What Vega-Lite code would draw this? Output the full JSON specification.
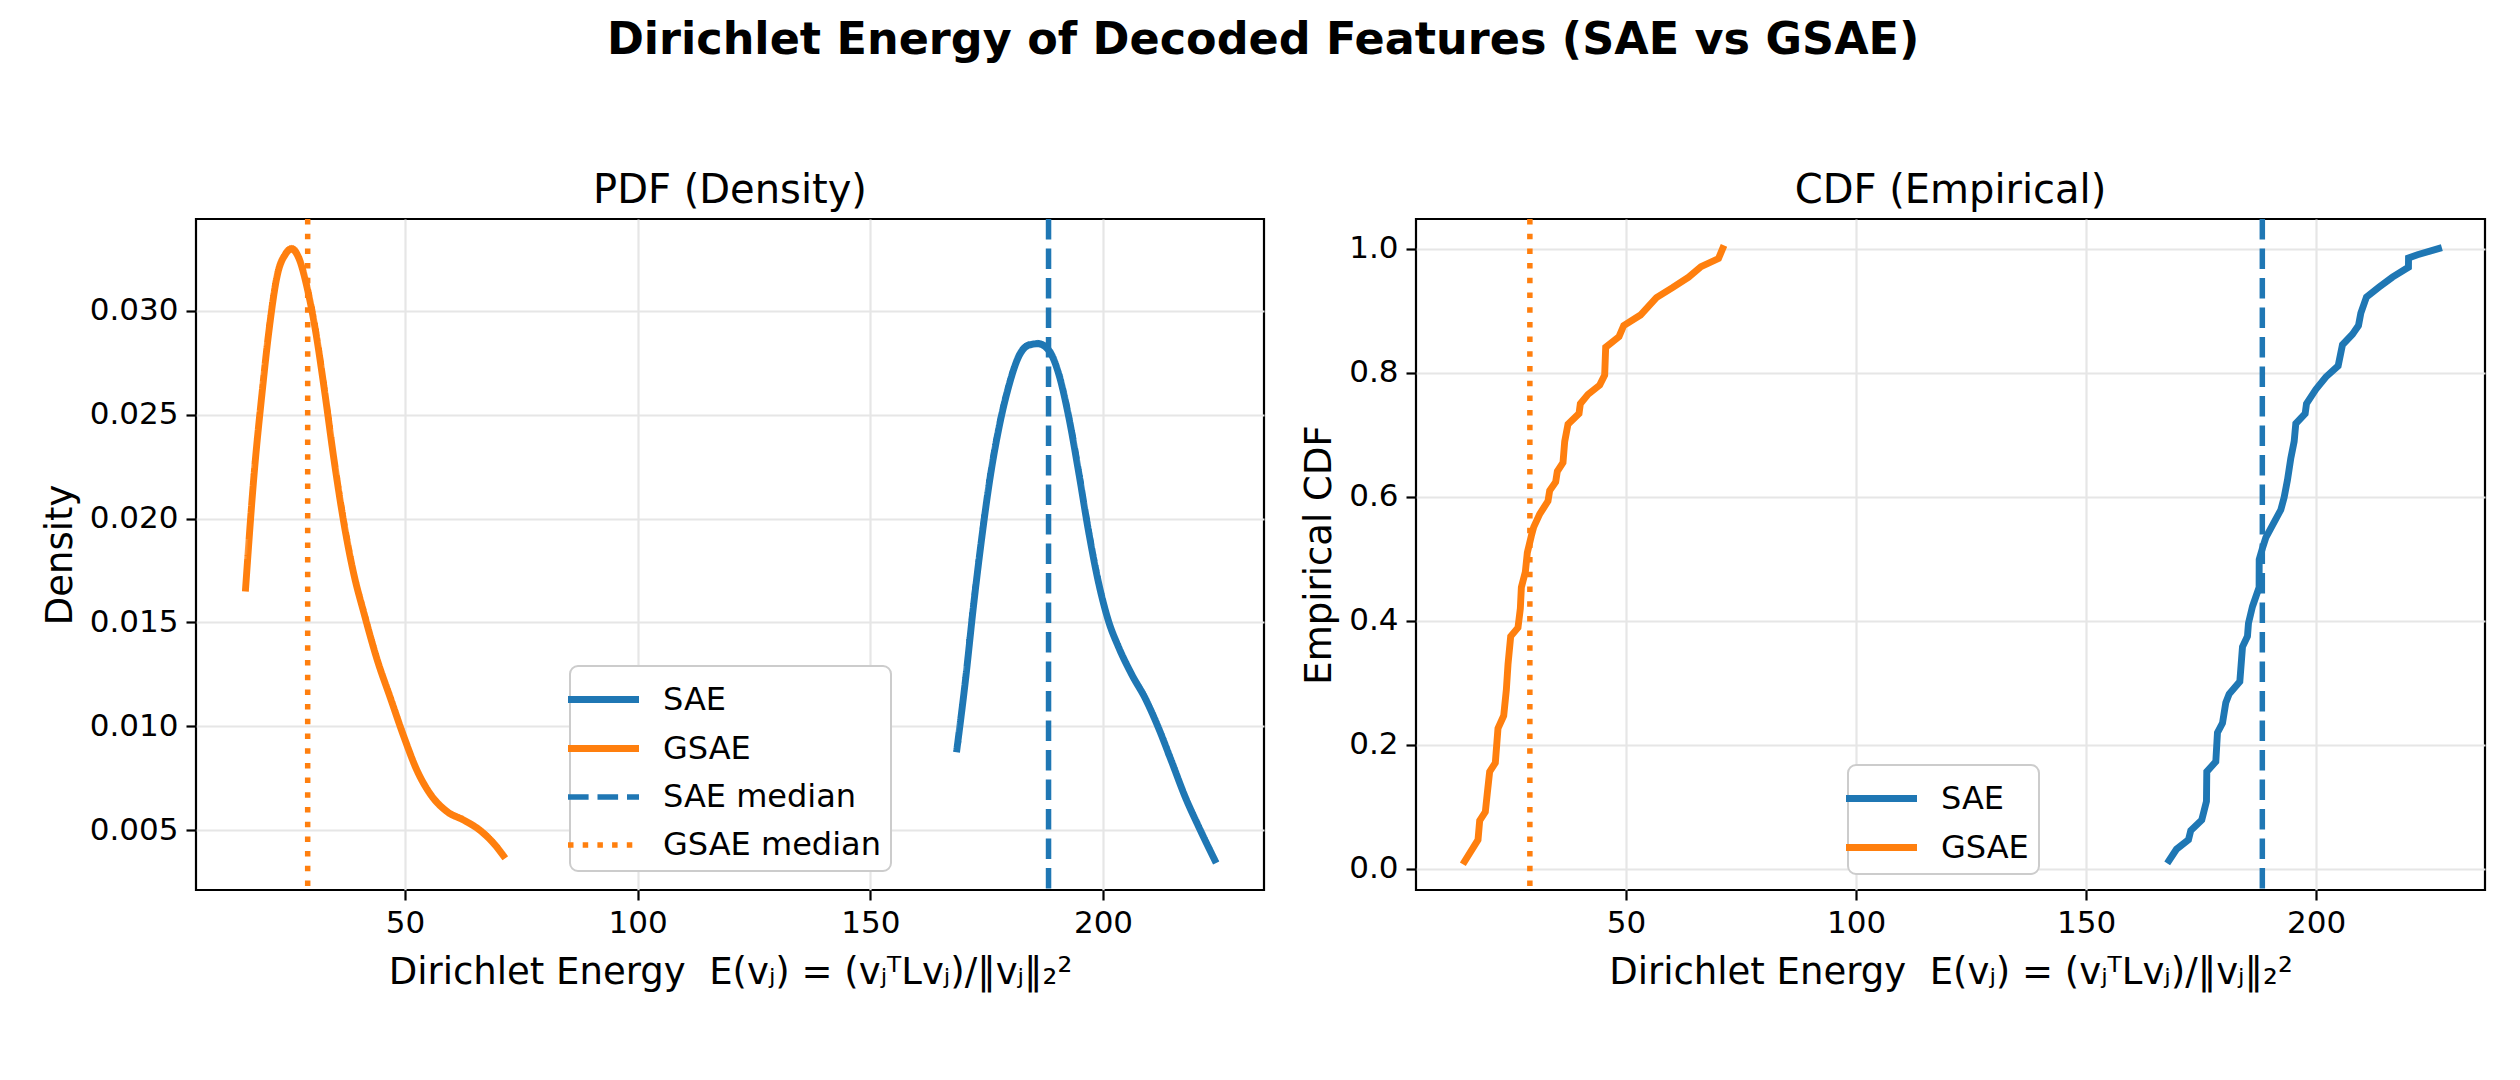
{
  "$schema": "https://vega.github.io/schema/vega-lite/v6.json",
  "background": "white",
  "padding": {"left": 40, "top": 17, "right": 5, "bottom": 5},
  "title": {"text": "Dirichlet Energy of Decoded Features (SAE vs GSAE)", "font": "DejaVu Sans", "fontSize": 44.5, "fontWeight": "bold", "color": "black", "anchor": "middle", "frame": "bounds", "baseline": "alphabetic", "offset": 72},
  "datasets": {
    "pdf": [
      {"s": "GSAE", "x": 15.76, "y": 0.01665}, {"s": "GSAE", "x": 17.55, "y": 0.02204}, {"s": "GSAE", "x": 19.34, "y": 0.02615}, {"s": "GSAE", "x": 20.77, "y": 0.02903}, {"s": "GSAE", "x": 22.56, "y": 0.03171}, {"s": "GSAE", "x": 24.35, "y": 0.03274}, {"s": "GSAE", "x": 25.64, "y": 0.03298}, {"s": "GSAE", "x": 27.22, "y": 0.03253}, {"s": "GSAE", "x": 29.01, "y": 0.03109}, {"s": "GSAE", "x": 30.8, "y": 0.02903}, {"s": "GSAE", "x": 32.59, "y": 0.02636}, {"s": "GSAE", "x": 34.74, "y": 0.02286}, {"s": "GSAE", "x": 36.89, "y": 0.01977}, {"s": "GSAE", "x": 39.04, "y": 0.0173}, {"s": "GSAE", "x": 41.19, "y": 0.01545}, {"s": "GSAE", "x": 44.05, "y": 0.01319}, {"s": "GSAE", "x": 46.92, "y": 0.01133}, {"s": "GSAE", "x": 49.79, "y": 0.00948}, {"s": "GSAE", "x": 52.65, "y": 0.00784}, {"s": "GSAE", "x": 55.52, "y": 0.00671}, {"s": "GSAE", "x": 59.1, "y": 0.00588}, {"s": "GSAE", "x": 62.68, "y": 0.00547}, {"s": "GSAE", "x": 66.26, "y": 0.00496}, {"s": "GSAE", "x": 69.13, "y": 0.00434}, {"s": "GSAE", "x": 71.13, "y": 0.00377},
      {"s": "SAE", "x": 168.62, "y": 0.00891}, {"s": "SAE", "x": 170.42, "y": 0.01216}, {"s": "SAE", "x": 172.21, "y": 0.01586}, {"s": "SAE", "x": 174.0, "y": 0.01916}, {"s": "SAE", "x": 175.79, "y": 0.02204}, {"s": "SAE", "x": 177.58, "y": 0.0243}, {"s": "SAE", "x": 179.73, "y": 0.02636}, {"s": "SAE", "x": 181.88, "y": 0.0278}, {"s": "SAE", "x": 184.03, "y": 0.02835}, {"s": "SAE", "x": 186.03, "y": 0.02842}, {"s": "SAE", "x": 188.32, "y": 0.02811}, {"s": "SAE", "x": 190.47, "y": 0.02698}, {"s": "SAE", "x": 192.62, "y": 0.02492}, {"s": "SAE", "x": 194.77, "y": 0.02224}, {"s": "SAE", "x": 196.92, "y": 0.01936}, {"s": "SAE", "x": 199.07, "y": 0.01689}, {"s": "SAE", "x": 201.22, "y": 0.01504}, {"s": "SAE", "x": 203.37, "y": 0.0138}, {"s": "SAE", "x": 206.23, "y": 0.01247}, {"s": "SAE", "x": 209.1, "y": 0.01133}, {"s": "SAE", "x": 211.96, "y": 0.0099}, {"s": "SAE", "x": 214.83, "y": 0.00825}, {"s": "SAE", "x": 217.69, "y": 0.00658}, {"s": "SAE", "x": 220.56, "y": 0.00516}, {"s": "SAE", "x": 224.0, "y": 0.00356}
    ],
    "cdf": [
      {"s": "GSAE", "x": 14.93, "y": 0.0124}, {"s": "GSAE", "x": 17.83, "y": 0.047}, {"s": "GSAE", "x": 18.19, "y": 0.078}, {"s": "GSAE", "x": 19.42, "y": 0.092}, {"s": "GSAE", "x": 19.86, "y": 0.123}, {"s": "GSAE", "x": 20.36, "y": 0.157}, {"s": "GSAE", "x": 21.59, "y": 0.171}, {"s": "GSAE", "x": 22.17, "y": 0.2265}, {"s": "GSAE", "x": 23.41, "y": 0.247}, {"s": "GSAE", "x": 23.99, "y": 0.289}, {"s": "GSAE", "x": 24.35, "y": 0.33}, {"s": "GSAE", "x": 24.93, "y": 0.375}, {"s": "GSAE", "x": 26.52, "y": 0.389}, {"s": "GSAE", "x": 27.03, "y": 0.42}, {"s": "GSAE", "x": 27.25, "y": 0.454}, {"s": "GSAE", "x": 28.12, "y": 0.479}, {"s": "GSAE", "x": 28.55, "y": 0.51}, {"s": "GSAE", "x": 29.42, "y": 0.537}, {"s": "GSAE", "x": 29.93, "y": 0.551}, {"s": "GSAE", "x": 31.23, "y": 0.572}, {"s": "GSAE", "x": 33.04, "y": 0.593}, {"s": "GSAE", "x": 33.41, "y": 0.61}, {"s": "GSAE", "x": 34.71, "y": 0.624}, {"s": "GSAE", "x": 35.07, "y": 0.641}, {"s": "GSAE", "x": 36.3, "y": 0.655}, {"s": "GSAE", "x": 36.67, "y": 0.689}, {"s": "GSAE", "x": 37.39, "y": 0.717}, {"s": "GSAE", "x": 39.78, "y": 0.734}, {"s": "GSAE", "x": 40.07, "y": 0.75}, {"s": "GSAE", "x": 41.74, "y": 0.765}, {"s": "GSAE", "x": 44.28, "y": 0.78}, {"s": "GSAE", "x": 45.36, "y": 0.796}, {"s": "GSAE", "x": 45.58, "y": 0.841}, {"s": "GSAE", "x": 48.48, "y": 0.858}, {"s": "GSAE", "x": 49.5, "y": 0.876}, {"s": "GSAE", "x": 53.15, "y": 0.893}, {"s": "GSAE", "x": 56.6, "y": 0.921}, {"s": "GSAE", "x": 60.1, "y": 0.937}, {"s": "GSAE", "x": 63.6, "y": 0.954}, {"s": "GSAE", "x": 66.3, "y": 0.971}, {"s": "GSAE", "x": 70.1, "y": 0.984}, {"s": "GSAE", "x": 71.0, "y": 1.0},
      {"s": "SAE", "x": 168.04, "y": 0.0138}, {"s": "SAE", "x": 169.64, "y": 0.0318}, {"s": "SAE", "x": 172.25, "y": 0.047}, {"s": "SAE", "x": 172.75, "y": 0.062}, {"s": "SAE", "x": 175.14, "y": 0.079}, {"s": "SAE", "x": 176.16, "y": 0.109}, {"s": "SAE", "x": 176.23, "y": 0.157}, {"s": "SAE", "x": 178.19, "y": 0.173}, {"s": "SAE", "x": 178.55, "y": 0.2196}, {"s": "SAE", "x": 179.64, "y": 0.235}, {"s": "SAE", "x": 180.36, "y": 0.268}, {"s": "SAE", "x": 181.09, "y": 0.282}, {"s": "SAE", "x": 183.41, "y": 0.302}, {"s": "SAE", "x": 183.99, "y": 0.358}, {"s": "SAE", "x": 185.07, "y": 0.375}, {"s": "SAE", "x": 185.29, "y": 0.396}, {"s": "SAE", "x": 186.16, "y": 0.423}, {"s": "SAE", "x": 187.6, "y": 0.454}, {"s": "SAE", "x": 187.62, "y": 0.499}, {"s": "SAE", "x": 188.33, "y": 0.517}, {"s": "SAE", "x": 189.06, "y": 0.534}, {"s": "SAE", "x": 192.32, "y": 0.579}, {"s": "SAE", "x": 193.04, "y": 0.599}, {"s": "SAE", "x": 193.77, "y": 0.627}, {"s": "SAE", "x": 194.49, "y": 0.662}, {"s": "SAE", "x": 195.22, "y": 0.689}, {"s": "SAE", "x": 195.58, "y": 0.718}, {"s": "SAE", "x": 197.61, "y": 0.734}, {"s": "SAE", "x": 197.9, "y": 0.75}, {"s": "SAE", "x": 199.93, "y": 0.773}, {"s": "SAE", "x": 202.1, "y": 0.793}, {"s": "SAE", "x": 204.78, "y": 0.811}, {"s": "SAE", "x": 205.72, "y": 0.845}, {"s": "SAE", "x": 207.9, "y": 0.862}, {"s": "SAE", "x": 209.2, "y": 0.876}, {"s": "SAE", "x": 209.71, "y": 0.896}, {"s": "SAE", "x": 210.94, "y": 0.922}, {"s": "SAE", "x": 213.7, "y": 0.938}, {"s": "SAE", "x": 216.59, "y": 0.954}, {"s": "SAE", "x": 220.06, "y": 0.97}, {"s": "SAE", "x": 220.08, "y": 0.985}, {"s": "SAE", "x": 222.03, "y": 0.99}, {"s": "SAE", "x": 226.6, "y": 1.0}
    ],
    "med": [
      {"s": "SAE median", "x": 188.3},
      {"s": "GSAE median", "x": 29.1}
    ]
  },
  "spacing": 152,
  "bounds": "flush",
  "resolve": {
    "scale": {"x": "independent", "y": "independent", "color": "independent", "strokeDash": "independent", "strokeWidth": "independent"},
    "axis": {"x": "independent", "y": "independent"},
    "legend": {"color": "independent", "strokeDash": "independent", "strokeWidth": "independent"}
  },
  "hconcat": [
    {
      "width": 1068,
      "height": 671,
      "title": "PDF (Density)",
      "encoding": {
        "x": {"field": "x", "type": "quantitative", "scale": {"domain": [5.1, 234.6], "nice": false, "zero": false}, "axis": {"values": [50, 100, 150, 200], "format": "d", "title": "Dirichlet Energy\u00a0 E(vⱼ) = (vⱼᵀLvⱼ)/‖vⱼ‖₂²", "titlePadding": 16}},
        "color": {"field": "s", "type": "nominal", "scale": {"domain": ["SAE", "GSAE", "SAE median", "GSAE median"], "range": ["#1f77b4", "#ff7f0e", "#1f77b4", "#ff7f0e"]}, "legend": {"orient": "none", "legendX": 374, "legendY": 447, "title": null}},
        "strokeDash": {"field": "s", "type": "nominal", "scale": {"domain": ["SAE", "GSAE", "SAE median", "GSAE median"], "range": [[1, 0], [1, 0], [20.6, 8.9], [5.5, 9.2]]}, "legend": {"orient": "none", "legendX": 374, "legendY": 447, "title": null}},
        "strokeWidth": {"field": "s", "type": "nominal", "scale": {"type": "ordinal", "domain": ["SAE", "GSAE", "SAE median", "GSAE median"], "range": [6.9, 6.9, 5.5, 5.5]}, "legend": {"orient": "none", "legendX": 374, "legendY": 447, "title": null}}
      },
      "layer": [
        {
          "data": {"name": "pdf"},
          "mark": {"type": "line", "strokeCap": "square", "interpolate": "monotone"},
          "encoding": {
            "y": {"field": "y", "type": "quantitative", "scale": {"domain": [0.00211, 0.03443], "nice": false, "zero": false}, "axis": {"values": [0.005, 0.01, 0.015, 0.02, 0.025, 0.03], "format": ".3f", "title": "Density", "titlePadding": 10}}
          }
        },
        {
          "data": {"name": "med"},
          "mark": {"type": "rule", "strokeCap": "butt"},
          "encoding": {}
        }
      ]
    },
    {
      "width": 1069,
      "height": 671,
      "title": "CDF (Empirical)",
      "encoding": {
        "x": {"field": "x", "type": "quantitative", "scale": {"domain": [4.35, 236.7], "nice": false, "zero": false}, "axis": {"values": [50, 100, 150, 200], "format": "d", "title": "Dirichlet Energy\u00a0 E(vⱼ) = (vⱼᵀLvⱼ)/‖vⱼ‖₂²", "titlePadding": 16}}
      },
      "layer": [
        {
          "data": {"name": "cdf"},
          "mark": {"type": "line", "strokeWidth": 6.9, "strokeCap": "square"},
          "encoding": {
            "y": {"field": "y", "type": "quantitative", "scale": {"domain": [-0.0339, 1.0477], "nice": false, "zero": false}, "axis": {"values": [0, 0.2, 0.4, 0.6, 0.8, 1.0], "format": ".1f", "title": "Empirical CDF", "titlePadding": 10}},
            "order": {"field": "y", "type": "quantitative"},
            "color": {"field": "s", "type": "nominal", "scale": {"domain": ["SAE", "GSAE"], "range": ["#1f77b4", "#ff7f0e"]}, "legend": {"orient": "none", "legendX": 432, "legendY": 546, "title": null}}
          }
        },
        {
          "data": {"name": "med"},
          "transform": [{"filter": "datum.s === 'SAE median'"}],
          "mark": {"type": "rule", "color": "#1f77b4", "strokeDash": [20.6, 8.9], "strokeWidth": 5.5, "strokeCap": "butt"},
          "encoding": {}
        },
        {
          "data": {"name": "med"},
          "transform": [{"filter": "datum.s === 'GSAE median'"}],
          "mark": {"type": "rule", "color": "#ff7f0e", "strokeDash": [5.5, 9.2], "strokeWidth": 5.5, "strokeCap": "butt"},
          "encoding": {}
        }
      ]
    }
  ],
  "config": {
    "font": "DejaVu Sans",
    "view": {"stroke": "black", "strokeWidth": 2.2},
    "axis": {"domain": false, "grid": true, "gridColor": "#e6e6e6", "gridWidth": 2.2, "tickColor": "black", "tickWidth": 2.2, "tickSize": 10, "labelColor": "black", "labelFont": "DejaVu Sans", "labelFontSize": 31, "labelPadding": 8, "titleFont": "DejaVu Sans", "titleFontSize": 37, "titleFontWeight": "normal", "titleColor": "black"},
    "title": {"font": "DejaVu Sans", "fontSize": 40, "fontWeight": "normal", "color": "black", "baseline": "alphabetic", "offset": 5},
    "legend": {"labelFont": "DejaVu Sans", "labelFontSize": 32, "labelColor": "black", "labelLimit": 0, "symbolType": "M-1.775,0H1.775", "symbolSize": 1600, "labelOffset": 36, "rowPadding": 9, "padding": 10, "strokeColor": "#cccccc", "fillColor": "white", "cornerRadius": 8, "strokeWidth": 2, "symbolStrokeWidth": 6.9}
  }
}
